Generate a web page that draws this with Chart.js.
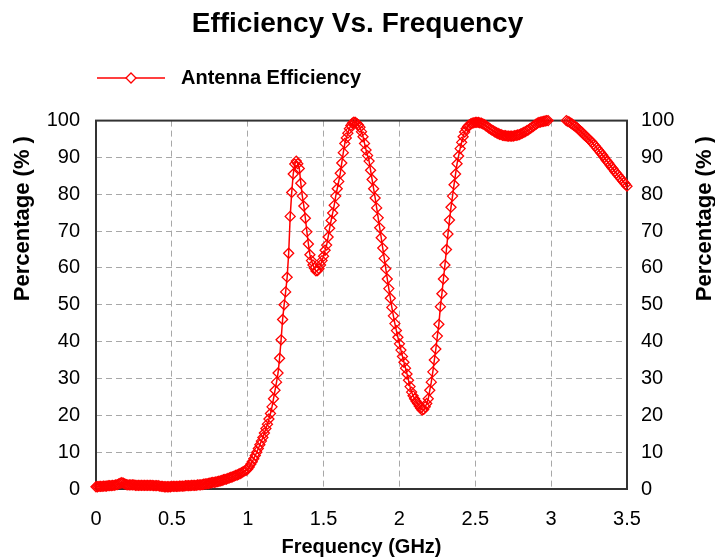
<!DOCTYPE html>
<html>
<head>
<meta charset="utf-8">
<title>Efficiency Vs. Frequency</title>
<script src="https://cdn.jsdelivr.net/npm/chart.js@4.4.1/dist/chart.umd.min.js"></script>
<style>
  html,body{margin:0;padding:0;background:#fff;}
  #wrap{width:715px;height:559px;position:relative;}
</style>
</head>
<body>
<div id="wrap"><canvas id="effChart" width="715" height="559"></canvas></div>
<script>
/* ── Data ── */
const freqGHz=[
  0.00,0.01,0.02,0.03,0.04,0.05,0.06,0.07,0.08,0.09,
  0.10,0.11,0.12,0.13,0.14,0.15,0.16,0.17,0.18,0.19,
  0.20,0.21,0.22,0.23,0.24,0.25,0.26,0.27,0.28,0.29,
  0.30,0.31,0.32,0.33,0.34,0.35,0.36,0.37,0.38,0.39,
  0.40,0.41,0.42,0.43,0.44,0.45,0.46,0.47,0.48,0.49,
  0.50,0.51,0.52,0.53,0.54,0.55,0.56,0.57,0.58,0.59,
  0.60,0.61,0.62,0.63,0.64,0.65,0.66,0.67,0.68,0.69,
  0.70,0.71,0.72,0.73,0.74,0.75,0.76,0.77,0.78,0.79,
  0.80,0.81,0.82,0.83,0.84,0.85,0.86,0.87,0.88,0.89,
  0.90,0.91,0.92,0.93,0.94,0.95,0.96,0.97,0.98,0.99,
  1.00,1.01,1.02,1.03,1.04,1.05,1.06,1.07,1.08,1.09,
  1.10,1.11,1.12,1.13,1.14,1.15,1.16,1.17,1.18,1.19,
  1.20,1.21,1.22,1.23,1.24,1.25,1.26,1.27,1.28,1.29,
  1.30,1.31,1.32,1.33,1.34,1.35,1.36,1.37,1.38,1.39,
  1.40,1.41,1.42,1.43,1.44,1.45,1.46,1.47,1.48,1.49,
  1.50,1.51,1.52,1.53,1.54,1.55,1.56,1.57,1.58,1.59,
  1.60,1.61,1.62,1.63,1.64,1.65,1.66,1.67,1.68,1.69,
  1.70,1.71,1.72,1.73,1.74,1.75,1.76,1.77,1.78,1.79,
  1.80,1.81,1.82,1.83,1.84,1.85,1.86,1.87,1.88,1.89,
  1.90,1.91,1.92,1.93,1.94,1.95,1.96,1.97,1.98,1.99,
  2.00,2.01,2.02,2.03,2.04,2.05,2.06,2.07,2.08,2.09,
  2.10,2.11,2.12,2.13,2.14,2.15,2.16,2.17,2.18,2.19,
  2.20,2.21,2.22,2.23,2.24,2.25,2.26,2.27,2.28,2.29,
  2.30,2.31,2.32,2.33,2.34,2.35,2.36,2.37,2.38,2.39,
  2.40,2.41,2.42,2.43,2.44,2.45,2.46,2.47,2.48,2.49,
  2.50,2.51,2.52,2.53,2.54,2.55,2.56,2.57,2.58,2.59,
  2.60,2.61,2.62,2.63,2.64,2.65,2.66,2.67,2.68,2.69,
  2.70,2.71,2.72,2.73,2.74,2.75,2.76,2.77,2.78,2.79,
  2.80,2.81,2.82,2.83,2.84,2.85,2.86,2.87,2.88,2.89,
  2.90,2.91,2.92,2.93,2.94,2.95,2.96,2.97,2.98,2.99,
  3.00,3.01,3.02,3.03,3.04,3.05,3.06,3.07,3.08,3.09,
  3.10,3.11,3.12,3.13,3.14,3.15,3.16,3.17,3.18,3.19,
  3.20,3.21,3.22,3.23,3.24,3.25,3.26,3.27,3.28,3.29,
  3.30,3.31,3.32,3.33,3.34,3.35,3.36,3.37,3.38,3.39,
  3.40,3.41,3.42,3.43,3.44,3.45,3.46,3.47,3.48,3.49,
  3.50
];
const efficiencyPct=[
  0.6,0.6,0.7,0.7,0.7,0.8,0.8,0.8,0.9,0.9,
  0.9,1.0,1.0,1.1,1.2,1.4,1.6,1.7,1.6,1.4,
  1.2,1.1,1.1,1.1,1.1,1.1,1.0,1.0,1.0,1.0,
  1.0,1.0,1.0,1.0,1.0,1.0,1.0,1.0,0.9,0.9,
  0.9,0.9,0.8,0.7,0.7,0.6,0.6,0.6,0.6,0.6,
  0.7,0.7,0.7,0.7,0.7,0.8,0.8,0.8,0.8,0.9,
  0.9,0.9,0.9,1.0,1.0,1.0,1.0,1.1,1.1,1.1,
  1.2,1.3,1.4,1.4,1.5,1.6,1.7,1.8,1.8,1.9,
  2.0,2.1,2.2,2.3,2.5,2.6,2.7,2.9,3.0,3.2,
  3.3,3.5,3.7,3.8,4.0,4.2,4.4,4.7,4.9,5.1,
  5.4,6.0,6.7,7.4,8.2,9.1,10.0,11.0,12.0,13.0,
  14.0,15.2,16.4,17.6,19.0,20.5,22.3,24.5,26.8,29.0,
  31.5,35.5,40.5,46.0,50.0,53.5,57.5,64.0,74.0,80.5,
  85.5,88.2,89.0,88.3,87.0,83.0,79.5,76.8,73.5,69.8,
  66.5,63.6,62.0,60.8,59.9,59.2,59.3,59.8,60.8,62.0,
  63.2,64.8,66.2,68.4,70.8,72.9,74.9,77.0,79.5,81.5,
  83.5,85.7,88.5,91.3,93.8,95.3,96.6,97.8,98.7,99.3,
  99.6,99.5,99.2,98.8,98.2,97.0,95.6,93.8,92.0,90.5,
  89.0,86.5,84.0,81.5,79.0,76.3,73.6,70.9,68.2,65.4,
  62.6,59.8,57.0,54.4,51.8,49.3,47.0,44.9,43.0,41.2,
  39.4,37.7,36.0,34.4,32.8,31.2,29.5,27.8,26.3,25.3,
  24.5,23.8,23.2,22.5,21.9,21.4,21.6,22.3,23.2,24.5,
  26.8,29.0,31.8,35.0,38.0,41.5,44.7,49.5,53.0,57.0,
  60.8,65.0,69.2,73.0,76.5,79.5,82.6,85.5,88.3,90.4,
  92.4,94.1,95.6,96.9,97.8,98.4,98.8,99.1,99.3,99.4,
  99.5,99.5,99.5,99.4,99.3,99.1,98.9,98.6,98.3,98.0,
  97.7,97.4,97.2,96.9,96.7,96.5,96.3,96.2,96.0,95.9,
  95.9,95.8,95.8,95.8,95.8,95.8,95.9,96.0,96.1,96.2,
  96.4,96.6,96.8,97.0,97.3,97.5,97.8,98.1,98.4,98.7,
  99.0,99.3,99.5,99.6,99.7,99.8,99.9,100.0,100.0,100.8,
  101.2,101.6,101.9,102.1,102.2,102.2,102.1,101.8,101.4,100.9,
  100.0,99.8,99.6,99.3,99.0,98.7,98.4,98.1,97.7,97.3,
  96.9,96.5,96.1,95.7,95.3,94.9,94.5,94.1,93.6,93.1,
  92.6,92.1,91.6,91.1,90.6,90.0,89.4,88.9,88.4,87.8,
  87.3,86.8,86.2,85.7,85.2,84.7,84.2,83.7,83.2,82.7,
  82.2
];
const xTicks=[0,0.5,1,1.5,2,2.5,3,3.5];
const yTicks=[0,10,20,30,40,50,60,70,80,90,100];

const seriesName='Antenna Efficiency';
const titleText='Efficiency Vs. Frequency';
const xTitle='Frequency (GHz)';
const yTitle='Percentage (% )';

/* ── Style ── */
const RED='#ff0000';
const FONT='"Liberation Sans", Arial, Helvetica, sans-serif';
const Y_MAX=100;
const hidden=v=>v>Y_MAX+0.05;   // out-of-range samples are not plotted

/* frame round the plot area */
const framePlugin={
  id:'frame',
  beforeDatasetsDraw(chart){
    const {ctx,chartArea:a}=chart;
    ctx.save();
    ctx.strokeStyle='#333';
    ctx.lineWidth=2;
    ctx.strokeRect(a.left,a.top,a.right-a.left,a.bottom-a.top);
    ctx.restore();
  }
};

/* legend (line + marker) and the two vertical axis titles */
const decorPlugin={
  id:'decor',
  afterDraw(chart){
    const {ctx,chartArea:a}=chart;
    ctx.save();
    // legend
    const ly=78, lx0=a.left+1, lx1=a.left+69;
    ctx.strokeStyle=RED;ctx.lineWidth=1.5;
    ctx.beginPath();ctx.moveTo(lx0,ly);ctx.lineTo(lx1,ly);ctx.stroke();
    ctx.fillStyle='#fff';ctx.lineWidth=1.3;
    Chart.helpers.drawPoint(ctx,{pointStyle:'rectRot',radius:5,borderWidth:1.3},(lx0+lx1)/2,ly);
    ctx.fillStyle='#000';
    ctx.font='bold 20px '+FONT;
    ctx.textAlign='left';ctx.textBaseline='middle';
    ctx.fillText(seriesName,a.left+85,ly);
    // vertical titles, both reading upwards
    ctx.font='bold 22px '+FONT;
    [22.5,705].forEach(x=>{
      ctx.save();
      ctx.translate(x,a.top+98);
      ctx.rotate(-Math.PI/2);
      ctx.textAlign='center';
      ctx.fillText(yTitle,0,0);
      ctx.restore();
    });
    ctx.restore();
  }
};

const tickFont={family:FONT,size:20};
const gridStyle={color:'#a8a8a8',lineWidth:1,drawTicks:false};

new Chart(document.getElementById('effChart'),{
  type:'line',
  data:{
    datasets:[{
      label:seriesName,
      data:freqGHz.map((f,i)=>({x:f,y:efficiencyPct[i]})),
      borderColor:RED,
      borderWidth:1.5,
      backgroundColor:'rgba(0,0,0,0)',
      pointStyle:'rectRot',
      pointRadius:c=>hidden(c.parsed.y)?0:5,
      pointBorderColor:RED,
      pointBackgroundColor:'rgba(0,0,0,0)',
      pointBorderWidth:1.3,
      tension:0,
      clip:8,
      segment:{borderColor:c=>(hidden(c.p0.parsed.y)||hidden(c.p1.parsed.y))?'rgba(0,0,0,0)':undefined},
      yAxisID:'y'
    }]
  },
  options:{
    responsive:false,
    animation:false,
    events:[],
    layout:{padding:0},
    plugins:{
      legend:{display:false},
      tooltip:{enabled:false},
      title:{display:true,text:titleText,color:'#000',
        font:{family:FONT,size:28,weight:'bold',lineHeight:1.2},
        padding:{top:7,bottom:80}}
    },
    scales:{
      x:{
        type:'linear',position:'bottom',min:0,max:3.5,
        afterBuildTicks:s=>{s.ticks=xTicks.map(v=>({value:v}));},
        afterFit:s=>{s.height=70;},
        ticks:{color:'#000',font:tickFont,padding:18,maxRotation:0,callback:v=>String(v)},
        grid:gridStyle,
        border:{display:false,dash:[6,4]},
        title:{display:true,text:xTitle,color:'#000',font:{family:FONT,size:20,weight:'bold'},padding:{top:0,bottom:0}}
      },
      y:{
        position:'left',min:0,max:Y_MAX,
        afterBuildTicks:s=>{s.ticks=yTicks.map(v=>({value:v}));},
        afterFit:s=>{s.width=96;},
        ticks:{color:'#000',font:tickFont,padding:16},
        grid:gridStyle,
        border:{display:false,dash:[6,4]}
      },
      y2:{
        position:'right',min:0,max:Y_MAX,
        afterBuildTicks:s=>{s.ticks=yTicks.map(v=>({value:v}));},
        afterFit:s=>{s.width=88;},
        ticks:{color:'#000',font:tickFont,padding:14},
        grid:{display:false,drawTicks:false},
        border:{display:false}
      }
    }
  },
  plugins:[framePlugin,decorPlugin]
});
</script>
</body>
</html>
